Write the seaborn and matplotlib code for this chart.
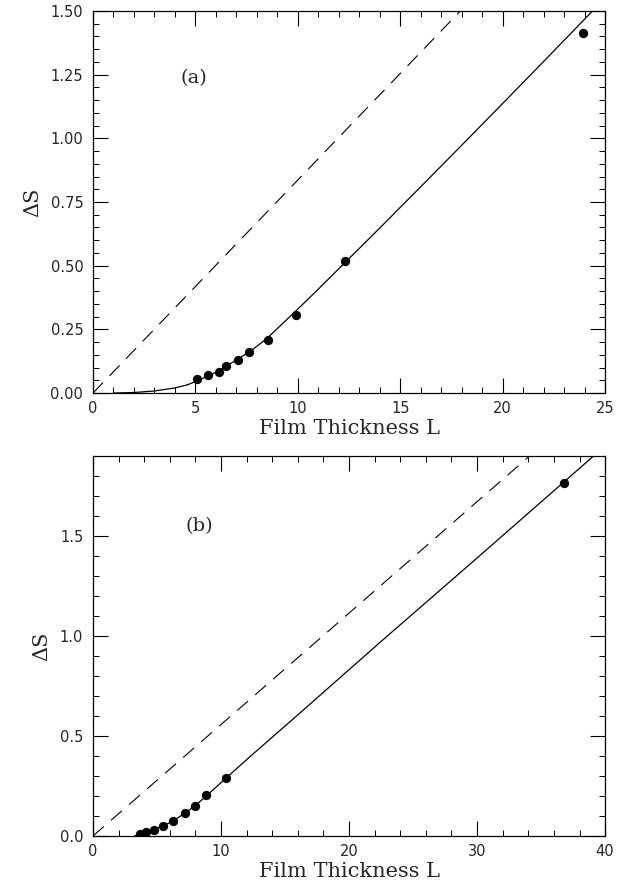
import numpy as np
import pandas as pd
import seaborn as sns
import matplotlib.pyplot as plt
from matplotlib.ticker import MultipleLocator

# panel (a): simulation points
pts_a_L = [5.10, 5.62, 6.14, 6.51, 7.10, 7.61, 8.52, 9.90, 12.31, 23.93]
pts_a_S = [0.055, 0.071, 0.082, 0.106, 0.129, 0.161, 0.209, 0.305, 0.518, 1.414]
# panel (a): solid curve
cur_a_L = [1.0, 2.0, 3.0, 4.0, 4.6, 5.1, 5.6, 6.2, 6.9, 7.7, 8.5, 9.9, 11.0, 12.4, 14.0, 16.0, 18.0, 20.0, 22.0, 24.6]
cur_a_S = [0.0, 0.002, 0.008, 0.02, 0.032, 0.048, 0.066, 0.09, 0.125, 0.165, 0.215, 0.322, 0.408, 0.52, 0.648, 0.81, 0.973, 1.137, 1.302, 1.518]
# panel (a): dashed line
dash_a_L = [0.0, 17.93]
dash_a_S = [0.0, 1.5]

# panel (b)
pts_b_L = [3.65, 4.17, 4.77, 5.47, 6.28, 7.16, 7.97, 8.86, 10.42, 36.8]
pts_b_S = [0.008, 0.02, 0.032, 0.05, 0.077, 0.115, 0.152, 0.207, 0.292, 1.765]
cur_b_L = [3.26, 3.65, 4.2, 4.8, 5.5, 6.3, 7.2, 8.0, 8.9, 10.4, 12.5, 15.9, 22.4, 30.0, 39.1]
cur_b_S = [0.0, 0.008, 0.02, 0.033, 0.05, 0.077, 0.115, 0.152, 0.203, 0.29, 0.41, 0.60, 0.967, 1.39, 1.9]
dash_b_L = [0.0, 34.1]
dash_b_S = [0.0, 1.9]

panels = [
    dict(pts=(pts_a_L, pts_a_S), cur=(cur_a_L, cur_a_S), dash=(dash_a_L, dash_a_S),
         xlim=(0, 25), ylim=(0, 1.5), xmaj=5, xmin=1, ymaj=0.25, ymin=0.05,
         yfmt='%.2f', tag='(a)', tag_pos=(4.93, 1.237),
         rect=[0.150, 0.5574, 0.826, 0.4302]),
    dict(pts=(pts_b_L, pts_b_S), cur=(cur_b_L, cur_b_S), dash=(dash_b_L, dash_b_S),
         xlim=(0, 40), ylim=(0, 1.9), xmaj=10, xmin=2, ymaj=0.5, ymin=0.1,
         yfmt='%.1f', tag='(b)', tag_pos=(8.28, 1.55),
         rect=[0.150, 0.0586, 0.826, 0.4279]),
]

sns.set_style("ticks")
plt.rcParams['font.family'] = ['DejaVu Sans']

fig = plt.figure(figsize=(6.2, 8.88), dpi=100)

for p in panels:
    ax = fig.add_axes(p['rect'])
    cur = pd.DataFrame({'L': p['cur'][0], 'S': p['cur'][1]})
    dash = pd.DataFrame({'L': p['dash'][0], 'S': p['dash'][1]})
    pts = pd.DataFrame({'L': p['pts'][0], 'S': p['pts'][1]})

    sns.lineplot(data=cur, x='L', y='S', ax=ax, color='black', lw=0.9, sort=False)
    sns.lineplot(data=dash, x='L', y='S', ax=ax, color='black', lw=0.8,
                 sort=False, linestyle=(0, (13, 8.5)))
    sns.scatterplot(data=pts, x='L', y='S', ax=ax, color='black', s=45,
                    edgecolor='black', linewidth=0, zorder=5)

    ax.set_xlim(*p['xlim'])
    ax.set_ylim(*p['ylim'])
    ax.xaxis.set_major_locator(MultipleLocator(p['xmaj']))
    ax.xaxis.set_minor_locator(MultipleLocator(p['xmin']))
    ax.yaxis.set_major_locator(MultipleLocator(p['ymaj']))
    ax.yaxis.set_major_formatter(plt.FormatStrFormatter(p['yfmt']))
    ax.yaxis.set_minor_locator(MultipleLocator(p['ymin']))
    ax.tick_params(which='both', direction='in', top=True, right=True,
                   labelsize=10.5, color='black', pad=7)
    ax.tick_params(axis='x', which='both', pad=6)
    ax.tick_params(which='major', length=11, width=0.8)
    ax.tick_params(which='minor', length=4, width=0.7)
    for sp in ax.spines.values():
        sp.set_visible(True)
        sp.set_linewidth(0.9)
        sp.set_color('black')

    ax.set_xlabel('Film Thickness L', family='DejaVu Serif', fontsize=15, labelpad=2)
    ax.set_ylabel('ΔS', family='DejaVu Serif', fontsize=15, labelpad=6)
    ax.text(*p['tag_pos'], p['tag'], family='DejaVu Serif', fontsize=14,
            ha='center', va='center')

fig.savefig('out.png', dpi=100)
